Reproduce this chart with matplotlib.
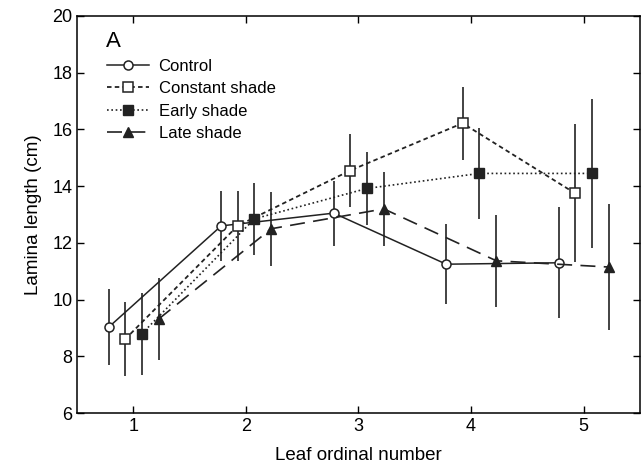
import numpy as np
import matplotlib
matplotlib.use("Agg")
import matplotlib.pyplot as plt

plt.rcParams['font.family'] = ['Liberation Sans', 'DejaVu Sans']

# data
leaf = np.array([1, 2, 3, 4, 5])

control = [9.03, 12.6, 13.05, 11.25, 11.3]
control_err = [1.34, 1.23, 1.15, 1.4, 1.95]

constant = [8.6, 12.6, 14.55, 16.22, 13.75]
constant_err = [1.3, 1.23, 1.3, 1.28, 2.44]

early = [8.8, 12.85, 13.92, 14.45, 14.45]
early_err = [1.45, 1.27, 1.29, 1.6, 2.63]

late = [9.32, 12.5, 13.2, 11.37, 11.15]
late_err = [1.44, 1.3, 1.3, 1.63, 2.22]

fig = plt.figure(figsize=(6.43, 4.70), dpi=100)
ax = fig.add_axes([0.12, 0.121, 0.875, 0.845])

ebkw = dict(ecolor='#222222', elinewidth=1.2, capsize=0, zorder=2)

ax.errorbar(leaf - 0.22, control, yerr=control_err, fmt='-', color='#222222',
            lw=1.1, marker='o', ms=6.5, mfc='white', mec='#222222', mew=1.1,
            label='Control', **ebkw)
ax.errorbar(leaf - 0.075, constant, yerr=constant_err, fmt='-', color='#222222',
            lw=1.3, ls=(0, (2.5, 1.8)), marker='s', ms=7, mfc='white', mec='#222222',
            mew=1.1, label='Constant shade', **ebkw)
ax.errorbar(leaf + 0.075, early, yerr=early_err, fmt='-', color='#222222',
            lw=1.2, ls=(0, (1, 1.6)), marker='s', ms=7, mfc='#222222', mec='#222222',
            label='Early shade', **ebkw)
ax.errorbar(leaf + 0.225, late, yerr=late_err, fmt='-', color='#222222',
            lw=1.2, ls=(0, (9, 5)), marker='^', ms=6.5, mfc='#222222', mec='#222222',
            label='Late shade', **ebkw)

ax.set_xlim(0.5, 5.5)
ax.set_ylim(6, 20)
ax.set_xticks([1, 2, 3, 4, 5])
ax.set_yticks(np.arange(6, 21, 2))
ax.tick_params(direction='in', top=True, right=True, labelsize=13, length=5, width=1)
for s in ax.spines.values():
    s.set_linewidth(1.1)

ax.set_xlabel('Leaf ordinal number', fontsize=13.5, labelpad=9)
ax.set_ylabel('Lamina length (cm)', fontsize=13.5, labelpad=7)

ax.text(0.052, 0.935, 'A', transform=ax.transAxes, fontsize=16, va='center')

handles, labels = ax.get_legend_handles_labels()
handles = [h[0] for h in handles]
ax.legend(handles, labels, loc='upper left', bbox_to_anchor=(0.035, 0.918),
          frameon=False, fontsize=12, handlelength=2.5, handletextpad=0.6,
          labelspacing=0.45, borderaxespad=0.2)

fig.savefig('out.png', dpi=100)
